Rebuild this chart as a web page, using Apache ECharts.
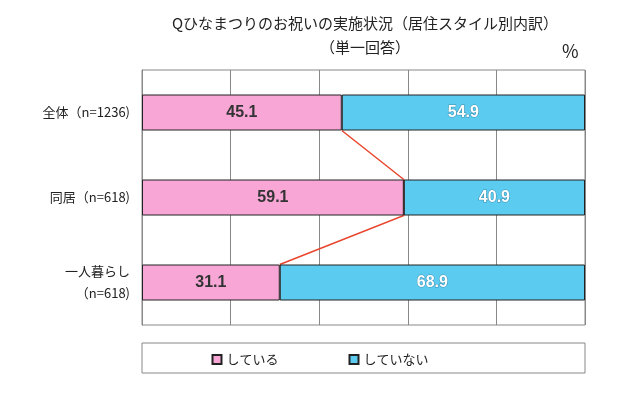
<!DOCTYPE html>
<html><head><meta charset="utf-8">
<script src="https://cdn.jsdelivr.net/npm/echarts@6/dist/echarts.min.js"></script>
<style>body{margin:0;background:#fff}#c{width:640px;height:400px}</style>
</head><body><div id="c"></div>
<script>
const categories = ['全体（n=1236)', '同居（n=618)', '一人暮らし\n（n=618)'];
const doing = [45.1, 59.1, 31.1];
const notDoing = [54.9, 40.9, 68.9];
const font = '"Noto Sans CJK JP", sans-serif';

let chart = echarts.init(document.getElementById('c'));
chart.setOption({
  textStyle: {fontFamily: font},
  title: {
    text: 'Qひなまつりのお祝いの実施状況（居住スタイル別内訳）\n（単一回答）',
    left: 360, top: 6, textAlign: 'center',
    textStyle: {fontSize: 15, fontWeight: 'normal', color: '#222', lineHeight: 24, fontFamily: font}
  },
  graphic: [{type: 'text', left: 562, top: 42, style: {text: '%', fontSize: 18, fill: '#222', fontFamily: font}},
    {type: 'rect', shape: {x: 142, y: 343, width: 443, height: 30}, style: {fill: 'none', stroke: '#888'}}],
  legend: {
    bottom: 29, left: 'center', itemGap: 70, itemWidth: 9, itemHeight: 9, icon: 'rect',
    textStyle: {fontSize: 13, color: '#222'},
    data: ['している', 'していない']
  },
  grid: {left: 142, right: 55, top: 70, bottom: 75, show: true, borderColor: '#888'},
  xAxis: {type: 'value', min: 0, max: 100, interval: 20,
    axisLabel: {show: false}, axisLine: {show: false}, axisTick: {show: false},
    splitLine: {lineStyle: {color: '#888'}}},
  yAxis: {type: 'category', inverse: true, data: categories,
    axisLine: {lineStyle: {color: '#888'}},
    axisTick: {length: 6, lineStyle: {color: '#888'}},
    axisLabel: {fontSize: 13, color: '#222', margin: 12, lineHeight: 22}},
  series: [
    {name: 'している', type: 'bar', stack: 'a', barWidth: 36, data: doing,
      itemStyle: {color: '#f7a6d6', borderColor: '#222', borderWidth: 1},
      label: {show: true, color: '#333', fontWeight: 'bold', fontSize: 16, fontFamily: 'Arial'}},
    {name: 'していない', type: 'bar', stack: 'a', barWidth: 36, data: notDoing,
      itemStyle: {color: '#5ccbf0', borderColor: '#222', borderWidth: 1},
      label: {show: true, color: '#fff', fontWeight: 'bold', fontSize: 16, fontFamily: 'Arial',
        textBorderColor: '#3a8fb0', textBorderWidth: 1}},
    {type: 'custom', silent: true, data: [0],
      renderItem: function (params, api) {
        let pts = [];
        doing.forEach(function (v, i) {
          let p = api.coord([v, i]);
          if (i > 0) pts.push([p[0], p[1] - 18]);
          if (i < doing.length - 1) pts.push([p[0], p[1] + 18]);
        });
        return {type: 'polyline', shape: {points: pts}, style: {stroke: '#e8452c', lineWidth: 1.5, fill: 'none'}};
      }}
  ]
});
</script></body></html>
